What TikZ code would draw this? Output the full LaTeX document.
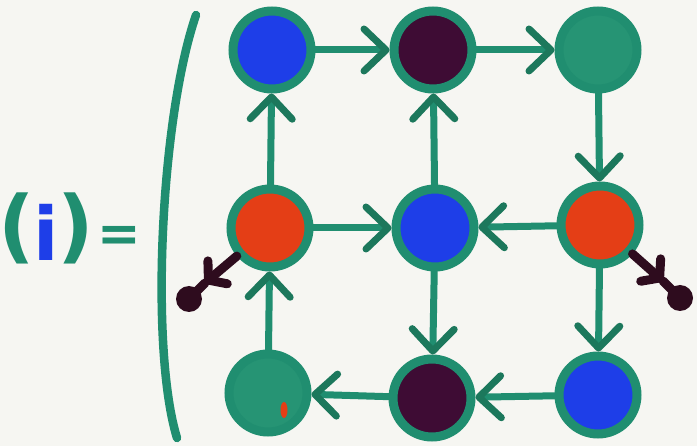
\documentclass[tikz,border=0pt]{standalone}
\usepackage{fontspec}
\setmainfont{DejaVu Sans}
\usetikzlibrary{arrows.meta}
\definecolor{ringg}{RGB}{32,142,112}
\definecolor{chev}{RGB}{28,120,92}
\definecolor{ballblue}{RGB}{30,62,232}
\definecolor{ballpurple}{RGB}{62,12,52}
\definecolor{ballred}{RGB}{228,62,22}
\definecolor{ballgreen}{RGB}{38,148,116}
\definecolor{darkarrow}{RGB}{46,12,30}
\definecolor{paper}{RGB}{246,246,242}
\tikzset{
  ball/.style={circle, draw=ringg, line width=9pt, minimum size=78pt, inner sep=0pt, outer sep=4.5pt},
  conn/.style={draw=ringg, line width=7pt, line cap=round,
     -{Straight Barb[length=22pt, width=42pt, round, color=chev]}},
  darkconn/.style={draw=darkarrow, line width=9pt, line cap=round,
     -{Straight Barb[length=12pt, width=30pt, round]}},
  glyph/.style={font=\bfseries\fontsize{80}{80}\selectfont, inner sep=0pt}
}
\begin{document}
\begin{tikzpicture}[x=1pt, y=-1pt]
\fill[paper] (0,0) rectangle (697,446);
\useasboundingbox (0,0) rectangle (697,446);

% left side: (i) =
\node[glyph, text=ringg] (lp) at (17,228) {(};
\node[glyph, text=ballblue, font=\bfseries\fontsize{74}{74}\selectfont] (ii) at (46,232) {i};
\node[glyph, text=ringg] (rp) at (76,228) {)};
\node[glyph, text=ringg, font=\bfseries\fontsize{52}{52}\selectfont] (eq) at (119,239) {=};

% big bar
\draw[ringg, line width=8.5pt, line cap=round] (196,15) .. controls (160,120) and (150,350) .. (177,438);

% balls
\node[ball, fill=ballblue]   (a1) at (272,50) {};
\node[ball, fill=ballpurple] (a2) at (433,50) {};
\node[ball, fill=ballgreen]  (a3) at (598,50) {};
\node[ball, fill=ballred]    (b1) at (270,228) {};
\node[ball, fill=ballblue]   (b2) at (435,228) {};
\node[ball, fill=ballred]    (b3) at (600,225) {};
\node[ball, fill=ballgreen]  (c1) at (268,393) {};
\node[ball, fill=ballpurple] (c2) at (432,398) {};
\node[ball, fill=ballblue]   (c3) at (598,395) {};
\fill[ballred] (284,410) ellipse (3.5pt and 8pt);

% connectors
\draw[conn] (a1) -- (a2);
\draw[conn] (a2) -- (a3);
\draw[conn] (b1) -- (a1);
\draw[conn] (b2) -- (a2);
\draw[conn] (a3) -- (b3);
\draw[conn] (b1) -- (b2);
\draw[conn] (b3) -- (b2);
\draw[conn] (c1) -- (b1);
\draw[conn] (b2) -- (c2);
\draw[conn] (b3) -- (c3);
\draw[conn] (c2) -- (c1);
\draw[conn] (c3) -- (c2);

% dark outgoing arrows
\coordinate (tl) at (205,283);
\coordinate (bl) at (189,299);
\coordinate (tr) at (663,281);
\coordinate (br) at (680,298);
\draw[darkconn] (b1) -- (tl);
\draw[darkarrow, line width=9pt, line cap=round] (tl) -- (bl);
\fill[darkarrow] (bl) circle (13pt);
\draw[darkconn] (b3) -- (tr);
\draw[darkarrow, line width=9pt, line cap=round] (tr) -- (br);
\fill[darkarrow] (br) circle (13pt);
\end{tikzpicture}
\end{document}
